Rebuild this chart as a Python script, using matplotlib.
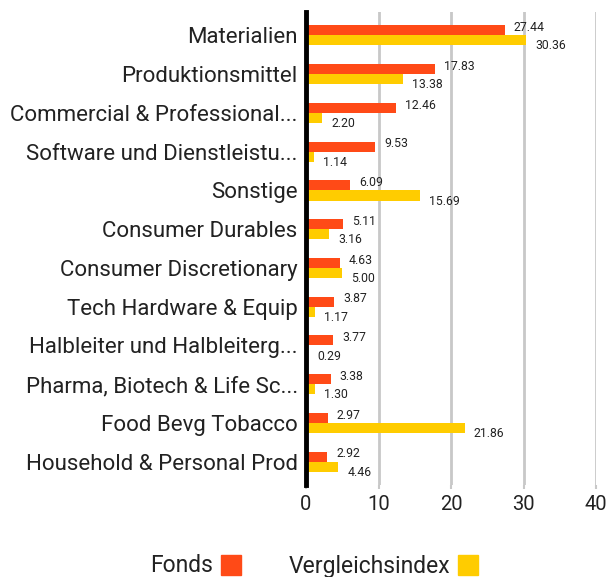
import matplotlib
matplotlib.use("Agg")
import matplotlib.pyplot as plt
from matplotlib.patches import Rectangle
import numpy as np

plt.rcParams['font.family'] = ['Roboto', 'DejaVu Sans']

categories = ["Materialien", "Produktionsmittel", "Commercial & Professional...",
              "Software und Dienstleistu...", "Sonstige", "Consumer Durables",
              "Consumer Discretionary", "Tech Hardware & Equip",
              "Halbleiter und Halbleiterg...", "Pharma, Biotech & Life Sc...",
              "Food Bevg Tobacco", "Household & Personal Prod"]
fonds = [27.44, 17.83, 12.46, 9.53, 6.09, 5.11, 4.63, 3.87, 3.77, 3.38, 2.97, 2.92]
index = [30.36, 13.38, 2.20, 1.14, 15.69, 3.16, 5.00, 1.17, 0.29, 1.30, 21.86, 4.46]
xticks = [0, 10, 20, 30, 40]
series_names = ["Fonds", "Vergleichsindex"]

c_fonds = "#FF4A17"
c_index = "#FFCC00"

fig = plt.figure(figsize=(6.09, 5.77), dpi=100)
ax = fig.add_axes([0.5025, 0.1594, 0.4762, 0.8196])

y = np.arange(len(categories))
h = 0.26
ax.barh(y - h/2, fonds, height=h, color=c_fonds, zorder=3)
ax.barh(y + h/2, index, height=h, color=c_index, zorder=3)

for yi, v in zip(y, fonds):
    ax.annotate(f"{v:.2f}", (v, yi - h/2), xytext=(6.5, 2), textcoords="offset points",
                ha="left", va="center", fontsize=8.8, color="#222222")
for yi, v in zip(y, index):
    ax.annotate(f"{v:.2f}", (v, yi + h/2), xytext=(6.5, -4), textcoords="offset points",
                ha="left", va="center", fontsize=8.8, color="#222222")

ax.set_xlim(0, 40)
ax.set_ylim(len(categories) - 0.4, -0.6)
ax.set_xticks(xticks)
ax.set_xticklabels([str(t) for t in xticks], fontsize=14.5, color="#222222")
ax.set_yticks(y)
ax.set_yticklabels(categories, fontsize=16, color="#222222")
ax.tick_params(axis="y", length=0, pad=6)
ax.tick_params(axis="x", length=3, color="#c8c8c8", width=1.5, pad=4)
ax.grid(axis="x", color="#c8c8c8", linewidth=2, zorder=0)
for s in ["top", "right", "bottom"]:
    ax.spines[s].set_visible(False)
ax.spines["left"].set_linewidth(3.5)
ax.spines["left"].set_color("black")
ax.spines["left"].set_zorder(5)

# legend
fig.text(213/609, 1 - 566/577, series_names[0], ha="right", va="center", fontsize=16.5, color="#222222")
fig.patches.append(Rectangle((221/609, 1 - 575/577), 20/609, 20/577, transform=fig.transFigure,
                             color=c_fonds, figure=fig))
fig.text(450/609, 1 - 566/577, series_names[1], ha="right", va="center", fontsize=16.5, color="#222222")
fig.patches.append(Rectangle((458/609, 1 - 575/577), 20/609, 20/577, transform=fig.transFigure,
                             color=c_index, figure=fig))

fig.savefig("out.png", dpi=100)
